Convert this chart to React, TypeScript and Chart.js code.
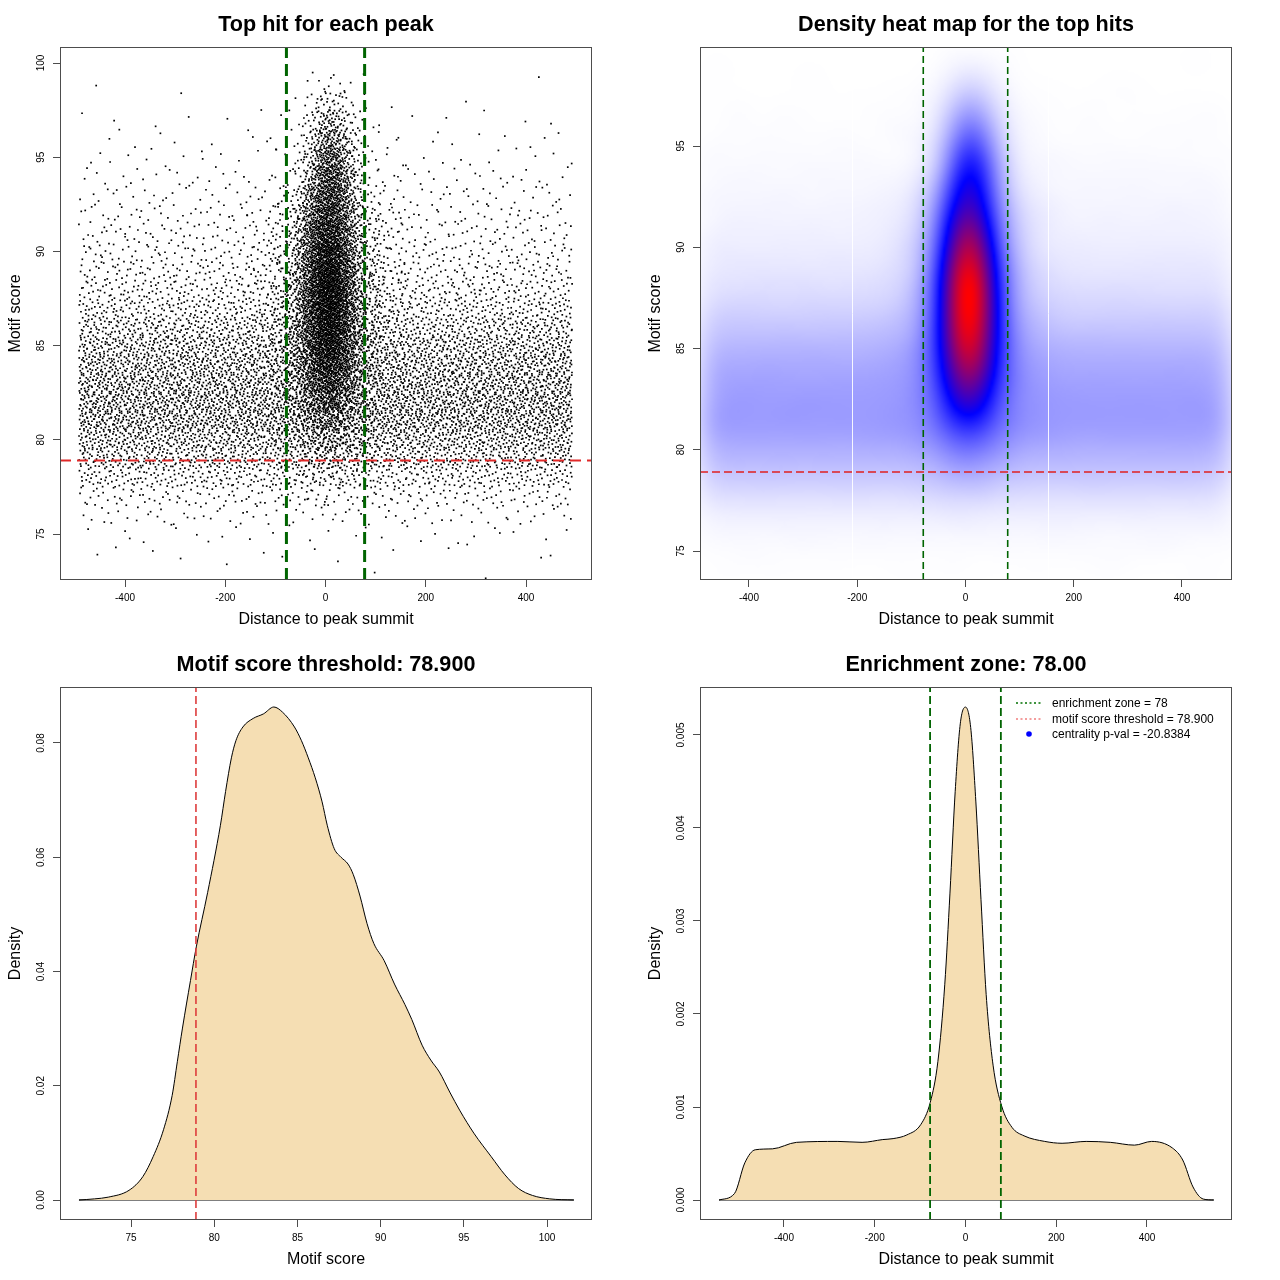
import React, { useEffect, useRef } from "react";
import { Chart, registerables } from "chart.js";

Chart.register(...registerables);

const FONT = "'Liberation Sans', Arimo, Arial, Helvetica, sans-serif";
Chart.defaults.color = "#000";
Chart.defaults.font.family = FONT;

// ---------------- Titles / labels ----------------
const TITLES = [
  "Top hit for each peak",
  "Density heat map for the top hits",
  "Motif score threshold: 78.900",
  "Enrichment zone: 78.00",
];
const X_TITLES = ["Distance to peak summit", "Distance to peak summit", "Motif score", "Distance to peak summit"];
const Y_TITLES = ["Motif score", "Motif score", "Density", "Density"];
const LEGEND_LABELS = ["enrichment zone = 78", "motif score threshold = 78.900", "centrality p-val = -20.8384"];

// ---------------- Thresholds ----------------
const ENRICHMENT_ZONE = 78;
const SCORE_THRESHOLD = 78.9;

// ---------------- Ticks ----------------
const DIST_TICKS = [-400, -200, 0, 200, 400];
const DIST_TICK_LABELS = ["-400", "-200", "0", "200", "400"];
const SCORE_TICKS_P1 = [75, 80, 85, 90, 95, 100];
const SCORE_TICK_LABELS_P1 = ["75", "80", "85", "90", "95", "100"];
const SCORE_TICKS_P2 = [75, 80, 85, 90, 95];
const SCORE_TICK_LABELS_P2 = ["75", "80", "85", "90", "95"];
const SCORE_TICKS_P3 = [75, 80, 85, 90, 95, 100];
const SCORE_TICK_LABELS_P3 = ["75", "80", "85", "90", "95", "100"];
const DENS_TICKS_P3 = [0, 0.02, 0.04, 0.06, 0.08];
const DENS_TICK_LABELS_P3 = ["0.00", "0.02", "0.04", "0.06", "0.08"];
const DENS_TICKS_P4 = [0, 0.001, 0.002, 0.003, 0.004, 0.005];
const DENS_TICK_LABELS_P4 = ["0.000", "0.001", "0.002", "0.003", "0.004", "0.005"];

// ---------------- Axis ranges ----------------
const P1_RANGE = { xMin: -529.7, xMax: 531.6, yMin: 72.56, yMax: 100.85 };
const P2_RANGE = { xMin: -490.5, xMax: 492.4, yMin: 73.57, yMax: 99.89 };
const P3_RANGE = { xMin: 70.73, xMax: 102.7, yMin: -0.0035, yMax: 0.0898 };
const P4_RANGE = { xMin: -585.1, xMax: 587.4, yMin: -0.000215, yMax: 0.005516 };

// ---------------- Scatter data (binned reading of the top-left panel) ----------------
// Background hits: spread evenly along the distance range, counts per 1-unit score row.
const BG_X_RANGE = [-492, 492];
const BG_ROW_CENTERS = [73, 74, 75, 76, 77, 78, 79, 80, 81, 82, 83, 84, 85, 86, 87, 88, 89, 90, 91, 92, 93, 94, 95, 96, 97, 98, 99];
const BG_ROW_COUNTS = [3, 13, 28, 81, 176, 383, 601, 769, 957, 979, 923, 848, 725, 560, 410, 300, 225, 170, 130, 105, 73, 56, 33, 23, 13, 6, 2];

// Central (enriched) hits: counts per cell, distance bins x score rows.
const CENTER_X_EDGES = [-160, -110, -80, -60, -45, -30, -15, 0, 15, 30, 45, 60, 80, 110, 160];
const CENTER_ROW_CENTERS = [77, 78, 79, 80, 81, 82, 83, 84, 85, 86, 87, 88, 89, 90, 91, 92, 93, 94, 95, 96, 97, 98, 99];
const CENTER_GRID = [
  [0, 0, 0, 0, 1, 1, 1, 1, 1, 0, 0, 0, 0, 0],
  [0, 0, 1, 1, 1, 2, 2, 2, 2, 2, 1, 1, 0, 0],
  [0, 1, 1, 2, 3, 4, 5, 5, 5, 3, 2, 2, 1, 1],
  [1, 2, 2, 3, 6, 8, 9, 10, 9, 7, 5, 4, 3, 1],
  [1, 3, 4, 6, 10, 13, 16, 17, 16, 12, 8, 6, 5, 3],
  [1, 3, 5, 8, 14, 22, 29, 32, 29, 20, 12, 8, 5, 2],
  [2, 4, 7, 11, 20, 31, 42, 46, 40, 28, 18, 11, 7, 3],
  [2, 5, 9, 14, 26, 40, 54, 60, 53, 37, 23, 15, 8, 4],
  [3, 6, 11, 17, 31, 48, 65, 71, 63, 44, 27, 18, 11, 5],
  [3, 7, 12, 19, 36, 55, 73, 81, 71, 50, 31, 20, 12, 5],
  [3, 8, 13, 20, 38, 59, 79, 87, 77, 54, 33, 21, 13, 5],
  [3, 8, 13, 21, 39, 60, 81, 89, 79, 55, 34, 22, 14, 7],
  [3, 7, 12, 20, 37, 57, 77, 84, 74, 52, 32, 21, 13, 6],
  [3, 7, 11, 18, 33, 51, 69, 76, 67, 47, 29, 19, 11, 4],
  [2, 6, 10, 15, 29, 44, 60, 65, 58, 40, 25, 16, 10, 5],
  [2, 5, 8, 13, 24, 37, 50, 55, 49, 34, 21, 14, 9, 4],
  [1, 3, 5, 8, 18, 30, 45, 50, 45, 30, 18, 10, 5, 2],
  [0, 1, 2, 4, 11, 22, 37, 46, 42, 27, 16, 8, 3, 1],
  [0, 1, 2, 3, 9, 17, 29, 36, 32, 20, 12, 6, 2, 1],
  [0, 1, 1, 2, 6, 12, 20, 25, 22, 14, 8, 4, 2, 1],
  [0, 0, 1, 1, 4, 7, 13, 16, 14, 9, 5, 3, 1, 0],
  [0, 0, 0, 1, 2, 3, 6, 7, 6, 4, 2, 1, 1, 0],
  [0, 0, 0, 0, 1, 1, 2, 2, 2, 1, 1, 1, 0, 0],
];

// smoothScatter-like kernel bandwidths and image seams of the heat map
const HM_BANDWIDTH = { x: 25, y: 0.63 };
const HM_BINS = 256;
const HEATMAP_SEAMS_X = [-209, 153];

// ---------------- Density of motif scores (bottom-left) ----------------
const MOTIF_SCORE_X = [71.87, 72.81, 73.63, 74.88, 75.71, 76.33, 76.95, 77.47, 77.78, 78.09, 78.57, 78.92, 79.6, 80.37, 80.68, 81.03, 81.3, 81.72, 82.34, 82.96, 83.58, 84.1, 84.82, 85.24, 85.65, 86.07, 86.48, 86.79, 87.21, 87.62, 88.04, 88.35, 88.76, 89.18, 89.59, 90.21, 90.83, 91.46, 91.87, 92.49, 93.01, 93.53, 94.15, 94.77, 95.6, 96.64, 97.47, 98.29, 99.12, 100.16, 101.61];
const MOTIF_SCORE_DENSITY = [0, 0.0002, 0.0005, 0.0017, 0.0041, 0.0076, 0.0123, 0.0183, 0.0242, 0.0301, 0.0384, 0.0443, 0.0538, 0.0656, 0.0715, 0.0774, 0.0804, 0.0828, 0.0843, 0.0851, 0.0863, 0.0854, 0.0828, 0.0804, 0.0774, 0.0739, 0.0697, 0.0656, 0.0615, 0.06, 0.0588, 0.057, 0.0532, 0.0484, 0.0449, 0.0419, 0.0378, 0.0342, 0.0316, 0.0271, 0.0245, 0.0224, 0.0189, 0.0156, 0.0117, 0.0076, 0.0044, 0.002, 0.0008, 0.0002, 0];

// ---------------- Density of distances (bottom-right) ----------------
const DIST_X = [-543.2, -509, -486.3, -463.4, -425.5, -372.2, -281.2, -227.9, -182.2, -159.5, -129.1, -98.7, -77.6, -60.8, -45.6, -34.2, -22.7, -11.5, 0, 11.5, 22.9, 34.2, 45.6, 60.8, 79.8, 102.7, 129.1, 174.7, 212.9, 266, 319.1, 372.4, 410.3, 455.9, 478.8, 501.5, 524.2, 547.2];
const DIST_DENSITY = [0, 0.00007, 0.0004, 0.00054, 0.00055, 0.00062, 0.00063, 0.00062, 0.00065, 0.00066, 0.0007, 0.00081, 0.00105, 0.00149, 0.00232, 0.0033, 0.00439, 0.00512, 0.0053, 0.00508, 0.00428, 0.00323, 0.00221, 0.00145, 0.00101, 0.00078, 0.00069, 0.00063, 0.00061, 0.00063, 0.00062, 0.00059, 0.00063, 0.00056, 0.00043, 0.00014, 0.00001, 0];

// ---------------- Helpers ----------------
function radicalInverse(i: number, base: number) {
  let f = 1;
  let r = 0;
  let n = i;
  while (n > 0) {
    f /= base;
    r += f * (n % base);
    n = Math.floor(n / base);
  }
  return r;
}

// leaped Halton sequence position inside a cell
const HALTON_LEAP = 409;

function buildScatterPoints() {
  const pts: { x: number; y: number }[] = [];
  let k = 1;
  const place = (x0: number, x1: number, y0: number) => {
    const idx = k * HALTON_LEAP;
    k++;
    return { x: x0 + (x1 - x0) * radicalInverse(idx, 2), y: y0 + radicalInverse(idx, 3) };
  };
  BG_ROW_COUNTS.forEach((n, r) => {
    const yc = BG_ROW_CENTERS[r];
    for (let j = 0; j < n; j++) pts.push(place(BG_X_RANGE[0], BG_X_RANGE[1], yc - 0.5));
  });
  CENTER_GRID.forEach((row, r) => {
    const yc = CENTER_ROW_CENTERS[r];
    row.forEach((n, c) => {
      for (let j = 0; j < n; j++) pts.push(place(CENTER_X_EDGES[c], CENTER_X_EDGES[c + 1], yc - 0.5));
    });
  });
  return pts;
}

const SCATTER_POINTS = buildScatterPoints();

function buildHeatmapImage(points: { x: number; y: number }[]) {
  const n = HM_BINS;
  const { xMin, xMax, yMin, yMax } = P2_RANGE;
  const dx = (xMax - xMin) / n;
  const dy = (yMax - yMin) / n;
  const grid = new Float64Array(n * n);
  const add = (ix: number, iy: number, w: number) => {
    if (ix >= 0 && ix < n && iy >= 0 && iy < n) grid[iy * n + ix] += w;
  };
  for (const p of points) {
    const fx = (p.x - xMin) / dx - 0.5;
    const fy = (p.y - yMin) / dy - 0.5;
    const ix = Math.floor(fx);
    const iy = Math.floor(fy);
    const wx = fx - ix;
    const wy = fy - iy;
    add(ix, iy, (1 - wx) * (1 - wy));
    add(ix + 1, iy, wx * (1 - wy));
    add(ix, iy + 1, (1 - wx) * wy);
    add(ix + 1, iy + 1, wx * wy);
  }
  const kernel = (sigma: number) => {
    const r = Math.ceil(sigma * 3);
    const k: number[] = [];
    for (let i = -r; i <= r; i++) k.push(Math.exp((-0.5 * i * i) / (sigma * sigma)));
    return { r, k };
  };
  const kx = kernel(HM_BANDWIDTH.x / dx);
  const ky = kernel(HM_BANDWIDTH.y / dy);
  const tmp = new Float64Array(n * n);
  for (let iy = 0; iy < n; iy++) {
    for (let ix = 0; ix < n; ix++) {
      let s = 0;
      for (let t = -kx.r; t <= kx.r; t++) {
        const jx = ix + t;
        if (jx >= 0 && jx < n) s += grid[iy * n + jx] * kx.k[t + kx.r];
      }
      tmp[iy * n + ix] = s;
    }
  }
  const out = new Float64Array(n * n);
  let max = 0;
  for (let iy = 0; iy < n; iy++) {
    for (let ix = 0; ix < n; ix++) {
      let s = 0;
      for (let t = -ky.r; t <= ky.r; t++) {
        const jy = iy + t;
        if (jy >= 0 && jy < n) s += tmp[jy * n + ix] * ky.k[t + ky.r];
      }
      out[iy * n + ix] = s;
      if (s > max) max = s;
    }
  }
  const canvas = document.createElement("canvas");
  canvas.width = n;
  canvas.height = n;
  const c = canvas.getContext("2d")!;
  const img = c.createImageData(n, n);
  for (let row = 0; row < n; row++) {
    const iy = n - 1 - row;
    for (let ix = 0; ix < n; ix++) {
      const t = out[iy * n + ix] / max;
      let r: number, g: number, b: number;
      if (t <= 0.5) {
        const u = t / 0.5;
        r = 255 * (1 - u);
        g = 255 * (1 - u);
        b = 255;
      } else {
        const u = (t - 0.5) / 0.5;
        r = 255 * u;
        g = 0;
        b = 255 * (1 - u);
      }
      const o = (row * n + ix) * 4;
      img.data[o] = r;
      img.data[o + 1] = g;
      img.data[o + 2] = b;
      img.data[o + 3] = 255;
    }
  }
  c.putImageData(img, 0, 0);
  return canvas;
}

// ---------------- Plugins ----------------
function framePlugin(title: string, xTitle: string, yTitle: string, yTicks: number[], yLabels: string[]) {
  return {
    id: "rFrame",
    afterDraw(chart: any) {
      const { ctx, chartArea: a, scales } = chart;
      ctx.save();
      ctx.strokeStyle = "#4d4d4d";
      ctx.lineWidth = 1;
      ctx.setLineDash([]);
      ctx.strokeRect(Math.round(a.left) + 0.5, Math.round(a.top) + 0.5, Math.round(a.right - a.left) - 1, Math.round(a.bottom - a.top) - 1);
      ctx.fillStyle = "#000";
      ctx.font = `10px ${FONT}`;
      ctx.textAlign = "center";
      ctx.textBaseline = "middle";
      yTicks.forEach((v, i) => {
        const py = scales.y.getPixelForValue(v);
        ctx.save();
        ctx.translate(a.left - 19, py);
        ctx.rotate(-Math.PI / 2);
        ctx.fillText(yLabels[i], 0, 0);
        ctx.restore();
      });
      const cx = (a.left + a.right) / 2;
      const cy = (a.top + a.bottom) / 2;
      ctx.font = `bold 21.6px ${FONT}`;
      ctx.fillText(title, cx, 25);
      ctx.font = `16px ${FONT}`;
      ctx.fillText(xTitle, cx, a.bottom + 40);
      ctx.save();
      ctx.translate(16, cy);
      ctx.rotate(-Math.PI / 2);
      ctx.fillText(yTitle, 0, 0);
      ctx.restore();
      ctx.restore();
    },
  };
}

function heatmapPlugin(image: HTMLCanvasElement) {
  return {
    id: "heatmap",
    beforeDatasetsDraw(chart: any) {
      const { ctx, scales, chartArea: a } = chart;
      const x0 = scales.x.getPixelForValue(P2_RANGE.xMin);
      const x1 = scales.x.getPixelForValue(P2_RANGE.xMax);
      const y0 = scales.y.getPixelForValue(P2_RANGE.yMax);
      const y1 = scales.y.getPixelForValue(P2_RANGE.yMin);
      ctx.save();
      ctx.imageSmoothingEnabled = true;
      ctx.imageSmoothingQuality = "high";
      ctx.drawImage(image, x0, y0, x1 - x0, y1 - y0);
      ctx.strokeStyle = "rgba(255,255,255,0.9)";
      ctx.lineWidth = 1;
      HEATMAP_SEAMS_X.forEach((v) => {
        const px = Math.round(scales.x.getPixelForValue(v)) + 0.5;
        ctx.beginPath();
        ctx.moveTo(px, a.top);
        ctx.lineTo(px, a.bottom);
        ctx.stroke();
      });
      ctx.restore();
    },
  };
}

const legendPlugin = {
  id: "rLegend",
  afterDraw(chart: any) {
    const { ctx, chartArea: a } = chart;
    const rows = [a.top + 16, a.top + 32, a.top + 47];
    ctx.save();
    ctx.lineWidth = 1.4;
    ctx.setLineDash([2, 2.5]);
    ctx.strokeStyle = "#007000";
    ctx.beginPath();
    ctx.moveTo(a.right - 216, rows[0]);
    ctx.lineTo(a.right - 191, rows[0]);
    ctx.stroke();
    ctx.strokeStyle = "rgba(235,80,80,0.75)";
    ctx.beginPath();
    ctx.moveTo(a.right - 216, rows[1]);
    ctx.lineTo(a.right - 191, rows[1]);
    ctx.stroke();
    ctx.setLineDash([]);
    ctx.fillStyle = "#0000ff";
    ctx.beginPath();
    ctx.arc(a.right - 203, rows[2], 2.8, 0, Math.PI * 2);
    ctx.fill();
    ctx.fillStyle = "#000";
    ctx.font = `12px ${FONT}`;
    ctx.textAlign = "left";
    ctx.textBaseline = "middle";
    LEGEND_LABELS.forEach((s, i) => ctx.fillText(s, a.right - 180, rows[i] + 0.5));
    ctx.restore();
  },
};

// ---------------- Config helpers ----------------
function makeScales(r: any, xTicks: number[], xLabels: string[], yTicks: number[]) {
  const grid = { drawOnChartArea: false, drawTicks: true, tickLength: 7, color: "#4d4d4d", lineWidth: 1 };
  return {
    x: {
      type: "linear",
      min: r.xMin,
      max: r.xMax,
      afterBuildTicks: (s: any) => {
        s.ticks = xTicks.map((v) => ({ value: v }));
      },
      afterFit: (s: any) => {
        s.height = 60;
      },
      ticks: {
        autoSkip: false,
        maxRotation: 0,
        minRotation: 0,
        padding: 5,
        color: "#000",
        font: { family: FONT, size: 10 },
        callback: (_v: any, i: number) => xLabels[i],
      },
      grid,
      border: { display: false },
    },
    y: {
      type: "linear",
      min: r.yMin,
      max: r.yMax,
      afterBuildTicks: (s: any) => {
        s.ticks = yTicks.map((v) => ({ value: v }));
      },
      afterFit: (s: any) => {
        s.width = 60;
      },
      ticks: { display: false },
      grid,
      border: { display: false },
    },
  };
}

const baseOptions = (scales: any) => ({
  responsive: false,
  animation: false,
  events: [],
  layout: { padding: { top: 47, left: 0, right: 48, bottom: 0 } },
  plugins: { legend: { display: false }, title: { display: false }, tooltip: { enabled: false } },
  scales,
});

const vLine = (x: number, r: any, color: string, width: number, dash: number[]) => ({
  type: "line",
  data: [
    { x, y: r.yMin },
    { x, y: r.yMax },
  ],
  borderColor: color,
  borderWidth: width,
  borderDash: dash,
  pointRadius: 0,
  fill: false,
});
const hLine = (y: number, r: any, color: string, width: number, dash: number[]) => ({
  type: "line",
  data: [
    { x: r.xMin, y },
    { x: r.xMax, y },
  ],
  borderColor: color,
  borderWidth: width,
  borderDash: dash,
  pointRadius: 0,
  fill: false,
});

const DARK_GREEN = "#006400";

function configP1() {
  const r = P1_RANGE;
  return {
    type: "scatter",
    data: {
      datasets: [
        vLine(-ENRICHMENT_ZONE, r, DARK_GREEN, 3, [12, 6]),
        vLine(ENRICHMENT_ZONE, r, DARK_GREEN, 3, [12, 6]),
        hLine(SCORE_THRESHOLD, r, "#e02828", 2, [11, 6]),
        {
          type: "scatter",
          data: SCATTER_POINTS,
          pointStyle: "rect",
          pointRadius: 1.2,
          backgroundColor: "#000",
          borderWidth: 0,
        },
      ],
    },
    options: baseOptions(makeScales(r, DIST_TICKS, DIST_TICK_LABELS, SCORE_TICKS_P1)),
    plugins: [framePlugin(TITLES[0], X_TITLES[0], Y_TITLES[0], SCORE_TICKS_P1, SCORE_TICK_LABELS_P1)],
  };
}

function configP2() {
  const r = P2_RANGE;
  const image = buildHeatmapImage(SCATTER_POINTS);
  return {
    type: "scatter",
    data: {
      datasets: [
        vLine(-ENRICHMENT_ZONE, r, DARK_GREEN, 1.6, [7, 4]),
        vLine(ENRICHMENT_ZONE, r, DARK_GREEN, 1.6, [7, 4]),
        hLine(SCORE_THRESHOLD, r, "#e02020", 1.6, [8, 4]),
      ],
    },
    options: baseOptions(makeScales(r, DIST_TICKS, DIST_TICK_LABELS, SCORE_TICKS_P2)),
    plugins: [heatmapPlugin(image), framePlugin(TITLES[1], X_TITLES[1], Y_TITLES[1], SCORE_TICKS_P2, SCORE_TICK_LABELS_P2)],
  };
}

function densityDatasets(xs: number[], ys: number[]) {
  return [
    {
      type: "line",
      data: xs.map((x, i) => ({ x, y: ys[i] })),
      borderColor: "#000",
      borderWidth: 1,
      backgroundColor: "#F5DEB3",
      fill: "origin",
      pointRadius: 0,
      cubicInterpolationMode: "monotone",
    },
    {
      type: "line",
      data: [
        { x: xs[0], y: 0 },
        { x: xs[xs.length - 1], y: 0 },
      ],
      borderColor: "#000",
      borderWidth: 1,
      pointRadius: 0,
      fill: false,
    },
  ];
}

function configP3() {
  const r = P3_RANGE;
  return {
    type: "line",
    data: {
      datasets: [vLine(SCORE_THRESHOLD, r, "#dd3c3c", 1.6, [8, 4]), ...densityDatasets(MOTIF_SCORE_X, MOTIF_SCORE_DENSITY)],
    },
    options: baseOptions(makeScales(r, SCORE_TICKS_P3, SCORE_TICK_LABELS_P3, DENS_TICKS_P3)),
    plugins: [framePlugin(TITLES[2], X_TITLES[2], Y_TITLES[2], DENS_TICKS_P3, DENS_TICK_LABELS_P3)],
  };
}

function configP4() {
  const r = P4_RANGE;
  return {
    type: "line",
    data: {
      datasets: [
        vLine(-ENRICHMENT_ZONE, r, DARK_GREEN, 1.8, [8, 4]),
        vLine(ENRICHMENT_ZONE, r, DARK_GREEN, 1.8, [8, 4]),
        ...densityDatasets(DIST_X, DIST_DENSITY),
      ],
    },
    options: baseOptions(makeScales(r, DIST_TICKS, DIST_TICK_LABELS, DENS_TICKS_P4)),
    plugins: [framePlugin(TITLES[3], X_TITLES[3], Y_TITLES[3], DENS_TICKS_P4, DENS_TICK_LABELS_P4), legendPlugin],
  };
}

function ChartPanel({ left, top, makeConfig }: { left: number; top: number; makeConfig: () => any }) {
  const ref = useRef<HTMLCanvasElement>(null);
  useEffect(() => {
    const chart = new Chart(ref.current as HTMLCanvasElement, makeConfig());
    return () => chart.destroy();
  }, []);
  return (
    <canvas
      ref={ref}
      width={640}
      height={640}
      style={{ position: "absolute", left, top, width: 640, height: 640 }}
    />
  );
}

export default function App() {
  return (
    <div style={{ position: "absolute", left: 0, top: 0, width: 1280, height: 1280, background: "#fff" }}>
      <ChartPanel left={0} top={0} makeConfig={configP1} />
      <ChartPanel left={640} top={0} makeConfig={configP2} />
      <ChartPanel left={0} top={640} makeConfig={configP3} />
      <ChartPanel left={640} top={640} makeConfig={configP4} />
    </div>
  );
}
